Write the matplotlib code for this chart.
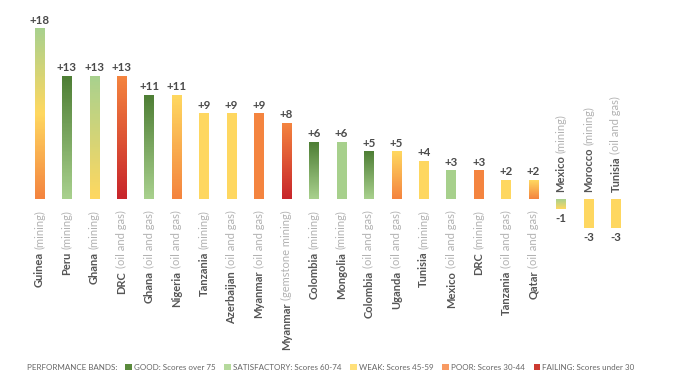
import matplotlib
matplotlib.use("Agg")
import matplotlib.pyplot as plt
import numpy as np
from matplotlib.colors import LinearSegmentedColormap
from matplotlib.transforms import offset_copy

plt.rcParams['font.family'] = ['Lato', 'DejaVu Sans']

# --- data ---
countries = ['Guinea', 'Peru', 'Ghana', 'DRC', 'Ghana', 'Nigeria', 'Tanzania',
             'Azerbaijan', 'Myanmar', 'Myanmar', 'Colombia', 'Mongolia',
             'Colombia', 'Uganda', 'Tunisia', 'Mexico', 'DRC', 'Tanzania',
             'Qatar', 'Mexico', 'Morocco', 'Tunisia']
sectors = ['mining', 'mining', 'mining', 'oil and gas', 'oil and gas',
           'oil and gas', 'mining', 'oil and gas', 'oil and gas',
           'gemstone mining', 'mining', 'mining', 'oil and gas', 'oil and gas',
           'mining', 'oil and gas', 'mining', 'oil and gas', 'oil and gas',
           'mining', 'mining', 'oil and gas']
changes = [18, 13, 13, 13, 11, 11, 9, 9, 9, 8, 6, 6, 5, 5, 4, 3, 3, 2, 2, -1, -3, -3]
# band indices: 0 failing, 1 poor, 2 weak, 3 satisfactory, 4 good
band_before = [1, 3, 2, 0, 3, 1, 2, 2, 1, 0, 3, 3, 3, 1, 2, 3, 1, 2, 1, 3, 2, 2]
band_after = [3, 4, 3, 1, 4, 2, 2, 2, 1, 1, 4, 3, 4, 2, 2, 3, 1, 2, 2, 2, 2, 2]

band_colors = ['#c8262b', '#f4843f', '#ffd860', '#a9d18e', '#4f7f36']
legend_colors = ['#5a8a3c', '#b5d99c', '#ffe07a', '#f89a62', '#cc3a30']
legend_labels = ['GOOD: Scores over 75', 'SATISFACTORY: Scores 60-74',
                 'WEAK: Scores 45-59', 'POOR: Scores 30-44',
                 'FAILING: Scores under 30']

fig = plt.figure(figsize=(6.74, 3.88), dpi=100)
ax = fig.add_axes([0, 0, 1, 1])
ax.set_xlim(-1.439, 23.115)
ax.set_ylim(-19.95, 21.11)
ax.axis('off')

x = np.arange(len(changes))
w = 0.35
bars = ax.bar(x, changes, w, color='none', edgecolor='none')

band_cmap = LinearSegmentedColormap.from_list('bands', band_colors)
px = 1.0 / 9.45  # data units per pixel (vertical)

for i, (b, v) in enumerate(zip(bars, changes)):
    lo, hi = band_before[i] / 4.0, band_after[i] / 4.0
    grad = np.linspace(lo, hi, 100).reshape(-1, 1)
    ax.imshow(grad, cmap=band_cmap, vmin=0, vmax=1, origin='lower',
              extent=(b.get_x(), b.get_x() + w, 0, v), aspect='auto',
              interpolation='bilinear', zorder=2)
    # value label
    if v > 0:
        ax.annotate('%+d' % v, (i, v), xytext=(0, 2.5), textcoords='offset points',
                    ha='center', va='bottom', fontsize=8.3, fontweight='bold',
                    color='#4a4a4a')
    else:
        ax.annotate('%d' % v, (i, v), xytext=(0, -3), textcoords='offset points',
                    ha='center', va='top', fontsize=8.3, fontweight='bold',
                    color='#4a4a4a')

fig.canvas.draw()
renderer = fig.canvas.get_renderer()
lab_size = 8
gap = 3  # pixels between the two parts

for i, v in enumerate(changes):
    name = countries[i]
    sect = '(%s)' % sectors[i]
    if v > 0:
        y0 = -10.5 * px
        t1 = ax.text(i, y0, sect, rotation=90, rotation_mode='anchor',
                     ha='right', va='center', fontsize=lab_size,
                     color='#b2b2b2')
        h = t1.get_window_extent(renderer).height
        tr = offset_copy(ax.transData, fig=fig, x=0, y=-(h + gap), units='dots')
        ax.text(i, y0, name, rotation=90, rotation_mode='anchor', ha='right',
                va='center', fontsize=lab_size, fontweight='bold',
                color='#555555', transform=tr)
    else:
        y0 = 7 * px
        t1 = ax.text(i, y0, name, rotation=90, rotation_mode='anchor',
                     ha='left', va='center', fontsize=lab_size,
                     fontweight='bold', color='#555555')
        h = t1.get_window_extent(renderer).height
        tr = offset_copy(ax.transData, fig=fig, x=0, y=h + gap, units='dots')
        ax.text(i, y0, sect, rotation=90, rotation_mode='anchor', ha='left',
                va='center', fontsize=lab_size, color='#b2b2b2', transform=tr)

# legend along the bottom, laid out left to right
W, H = 674.0, 388.0
ly = 1 - 367 / H
leg_size = 5.8
t = fig.text(27 / W, ly, 'PERFORMANCE BANDS:', fontsize=leg_size,
             color='#666666', va='center', ha='left')
cur = 27 + t.get_window_extent(renderer).width + 7.5
for c, lab in zip(legend_colors, legend_labels):
    fig.patches.append(plt.Rectangle((cur / W, ly - 3.4 / H), 6.7 / W, 6.8 / H,
                                     transform=fig.transFigure, facecolor=c,
                                     edgecolor='none'))
    t = fig.text((cur + 9) / W, ly, lab, fontsize=leg_size, color='#666666',
                 va='center', ha='left')
    cur = cur + 9 + t.get_window_extent(renderer).width + 8.5

fig.savefig('out.png', dpi=100, facecolor='white')
